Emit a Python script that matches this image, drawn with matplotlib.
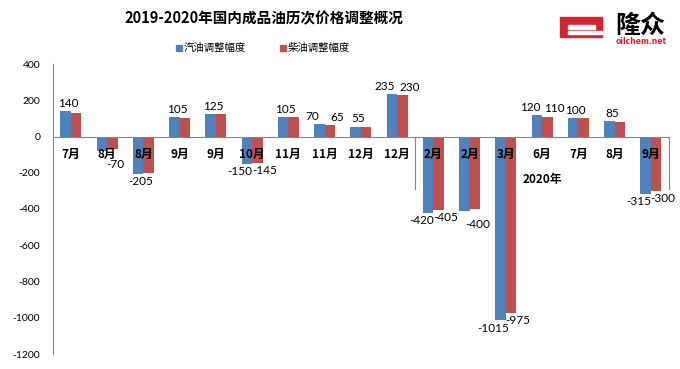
import matplotlib
matplotlib.use("Agg")
import matplotlib.pyplot as plt
from matplotlib.patches import Rectangle
import numpy as np

plt.rcParams['font.family'] = ['Noto Sans CJK SC', 'DejaVu Sans']

title = "2019-2020年国内成品油历次价格调整概况"
series_names = ["汽油调整幅度", "柴油调整幅度"]
categories = ["7月", "8月", "8月", "9月", "9月", "10月", "11月", "11月", "12月", "12月",
              "2月", "2月", "3月", "6月", "7月", "8月", "9月"]
gasoline = [140, -80, -205, 105, 125, -150, 105, 70, 55, 235,
            -420, -410, -1015, 120, 100, 85, -315]
diesel = [130, -70, -200, 100, 125, -145, 105, 65, 50, 230,
          -405, -400, -975, 110, 100, 80, -300]
# which data labels are visible in the reference
show_gas = [1, 0, 1, 1, 1, 1, 1, 1, 1, 1, 1, 0, 1, 1, 1, 1, 1]
show_die = [0, 1, 0, 0, 0, 1, 0, 1, 0, 1, 1, 1, 1, 1, 0, 0, 1]
year_group_label = "2020年"
year_group_start = 10
yticks = [400, 200, 0, -200, -400, -600, -800, -1000, -1200]

W, H = 680, 369
fig = plt.figure(figsize=(W / 100, H / 100), dpi=100)

def fx(p):
    return p / W

def fy(p):
    return 1 - p / H

ax = fig.add_axes([fx(52.7), fy(354), fx(669) - fx(52.7), fy(64) - fy(354)])

blue = "#4F81BD"
red = "#C0504D"
n = len(categories)
x = np.arange(n)
bw = 0.29
ax.bar(x - bw / 2, gasoline, bw, color=blue, zorder=2)
ax.bar(x + bw / 2, diesel, bw, color=red, zorder=2)

ax.set_xlim(-0.5, n - 0.5)
ax.set_ylim(-1200, 400)
ax.set_yticks(yticks)
ax.set_yticklabels([str(v) for v in yticks], fontfamily='Lato', fontsize=7.5)
ax.tick_params(axis='y', length=0, pad=9)
ax.set_xticks([])
for s in ['top', 'right', 'bottom']:
    ax.spines[s].set_visible(False)
ax.spines['left'].set_color('#868686')
ax.spines['left'].set_linewidth(0.8)
ax.axhline(0, color='#868686', lw=0.8, zorder=3)

lab_font = dict(fontfamily='Lato', fontsize=8.5, color='black', zorder=5)

def put_label(xc, v, dx, dy=1.5):
    if v >= 0:
        ax.annotate(str(v), (xc, v), xytext=(dx, dy), textcoords='offset points',
                    ha='center', va='bottom', **lab_font)
    else:
        ax.annotate(str(v), (xc, v), xytext=(dx, -dy), textcoords='offset points',
                    ha='center', va='top', **lab_font)

for i in range(n):
    g, d = gasoline[i], diesel[i]
    if show_gas[i] and show_die[i]:
        put_label(i - bw / 2, g, -5)
        put_label(i + bw / 2, d, 5)
    elif show_gas[i]:
        put_label(i - bw / 4, g, 0)
    elif show_die[i]:
        put_label(i + bw / 2, d, 2, 7)

# category labels
for i, c in enumerate(categories):
    ax.annotate(c, (i, 0), xytext=(0, -13), textcoords='offset points',
                ha='center', va='center', fontsize=8.5, fontweight='bold', zorder=6)

# group label and separators
ax.annotate(year_group_label, ((year_group_start - 0.5 + n - 0.5) / 2, 0), xytext=(0, -31),
            textcoords='offset points', ha='center', va='center',
            fontsize=8.5, fontweight='bold')
for xs in [year_group_start - 0.5, n - 0.5]:
    ax.plot([xs, xs], [0, -290], color='#868686', lw=0.8, clip_on=False, zorder=3)

# title
fig.text(fx(264), fy(18), title, ha='center', va='center', fontsize=10.5, fontweight='bold')

# legend
for px, name, col in [(176, series_names[0], blue), (280, series_names[1], red)]:
    fig.patches.append(Rectangle((fx(px), fy(51)), fx(6), 6 / H, color=col,
                                 transform=fig.transFigure, figure=fig))
    fig.text(fx(px + 8), fy(48), name, ha='left', va='center', fontsize=7.5)

# logo
logo_red = "#D7262B"
fig.patches.append(Rectangle((fx(560), fy(37)), fx(42), 20 / H, color=logo_red,
                             transform=fig.transFigure, figure=fig))
fig.patches.append(Rectangle((fx(568), fy(28.5)), fx(27), 3 / H, color='white',
                             transform=fig.transFigure, figure=fig))
fig.patches.append(Rectangle((fx(568), fy(33.5)), fx(34), 2 / H, color='white',
                             transform=fig.transFigure, figure=fig))
fig.text(fx(640), fy(26), "隆众", ha='center', va='center', fontsize=18, fontweight='bold')
fig.text(fx(641), fy(42), "oilchem.net", ha='center', va='center', fontsize=5.5,
         fontweight='bold', color=logo_red, fontfamily='DejaVu Sans')

fig.savefig("out.png", dpi=100)
